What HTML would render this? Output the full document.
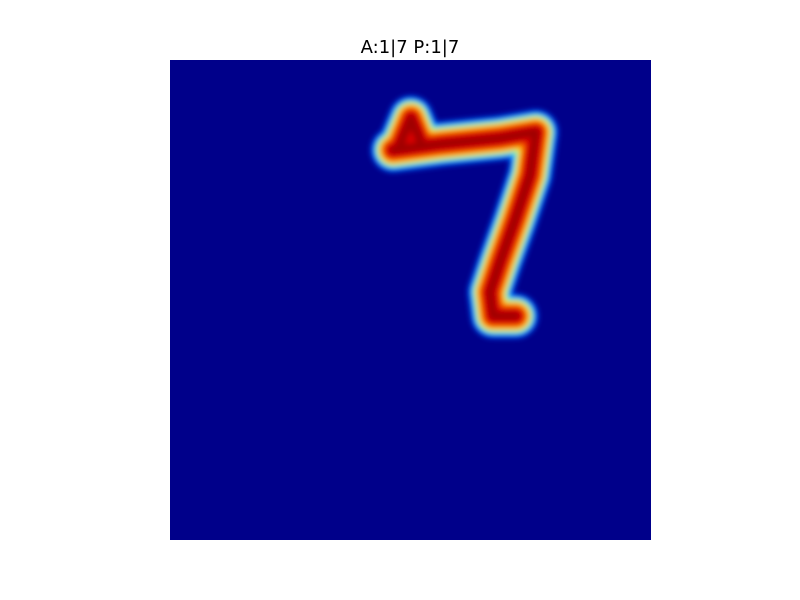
<!DOCTYPE html>
<html><head><style>
body{margin:0;background:#fff;}
svg{display:block;}
</style></head><body>
<svg width="800" height="600">
<defs><filter id="b" x="-20%" y="-20%" width="140%" height="140%"><feGaussianBlur stdDeviation="3"/></filter>
<clipPath id="c"><rect x="170" y="60" width="481" height="480"/></clipPath></defs>
<text x="410" y="53" text-anchor="middle" font-family="DejaVu Sans, Liberation Sans, sans-serif" font-size="18">A:1|7 P:1|7</text>
<rect x="170" y="60" width="481" height="480" fill="#00008a"/>
<g clip-path="url(#c)" filter="url(#b)" fill="none" stroke-linecap="round" stroke-linejoin="round">
<g id="p">
<path d="M393 150 L440 144 L500 138 L536 132 L530 175 L515 220 L500 262 L490 292 L493 316 L516 316"/>
<path d="M400 144 L411 118 L420 140"/>
</g>
<use href="#p" stroke="#0050ff" stroke-width="44"/>
<use href="#p" stroke="#00c0ff" stroke-width="38"/>
<use href="#p" stroke="#60ff90" stroke-width="34"/>
<use href="#p" stroke="#ffe000" stroke-width="30"/>
<use href="#p" stroke="#ff7000" stroke-width="25"/>
<use href="#p" stroke="#e00000" stroke-width="19"/>
<use href="#p" stroke="#a00000" stroke-width="9"/>
</g>
</svg>
</body></html>
